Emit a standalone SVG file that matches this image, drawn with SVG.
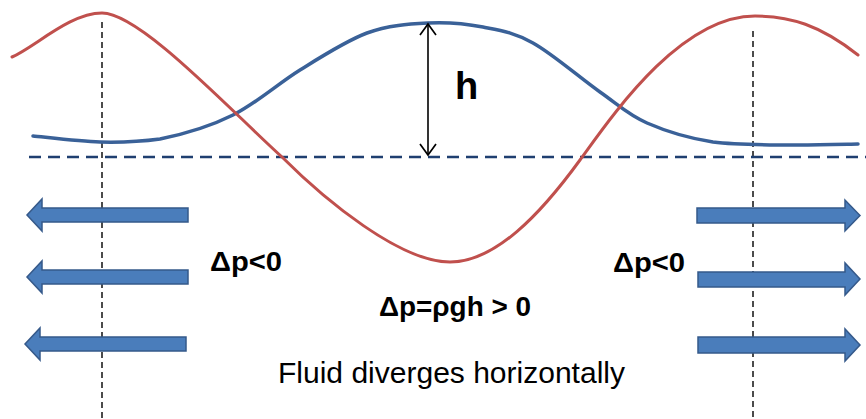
<svg xmlns="http://www.w3.org/2000/svg" width="866" height="419" viewBox="0 0 866 419">
<style>
.vguide{stroke:#111;stroke-width:1.5;stroke-dasharray:6,4;fill:none}
.base{stroke:#1f3f70;stroke-width:2.5;stroke-dasharray:12,7;fill:none}
.curve{fill:none;stroke-linecap:round;stroke-linejoin:round}
.barrow{fill:#4a7dbb;stroke:#35598a;stroke-width:1.5;stroke-linejoin:miter}
.lbl{font-family:"Liberation Sans",Arial,sans-serif;fill:#000}
.b{font-weight:bold}
</style>
<defs>
<marker id="open" viewBox="-1 -1 14 18" refX="11" refY="8" markerWidth="14" markerHeight="18" orient="auto-start-reverse" markerUnits="userSpaceOnUse">
<path d="M0,0 L11,8 L0,16" fill="none" stroke="#000" stroke-width="1.7"/>
</marker>
</defs>
<rect width="866" height="419" fill="#fff"/>
<g id="guides">
<line class="vguide" x1="102" y1="22" x2="102" y2="419"/>
<line class="vguide" x1="753" y1="31" x2="753" y2="419"/>
<line class="base" x1="29" y1="157" x2="866" y2="157"/>
</g>
<g id="blue-surface">
<path class="curve" stroke="#3a6198" stroke-width="3.5" d="M33,136 C44,137 79,141.5 100,142 C121,142.5 138,142 160,139 C182,134.5 210,126.5 233,115 C256,103.5 278,83.7 300,70 C322,56.3 346,40.8 367,33 C388,25.2 409,24 428,23 C447,22 466,23.7 483,27 C500,30.3 514,32.2 533,43 C552.5,53.8 581,78.7 600,92 C619,105.3 628,114.7 647,123 C666,131.3 689,138.3 713,142 C737,145 766,144.7 790,145 C814,145.3 847,144.2 858,144"/>
</g>
<g id="red-pressure">
<path class="curve" stroke="#c0504d" stroke-width="3" d="M12,57 C35,47 70,13 102,13 C140,13 230,110 282,157 C325,200 400,262 450,262 C495,262 540,215 580,160 C612,116 680,16 755,16 C790,16 820,25 858,55"/>
</g>
<g id="connectors">
<line x1="428" y1="24" x2="428" y2="155" stroke="#000" stroke-width="1.6" marker-start="url(#open)" marker-end="url(#open)"/>
</g>
<g id="left-arrows">
<polygon class="barrow" points="27,215 42,199 42,208 188,208 188,222 42,222 42,231"/>
<polygon class="barrow" points="27,277 42,261 42,270 188,270 188,284 42,284 42,293"/>
<polygon class="barrow" points="25,344 40,328 40,337 186,337 186,351 40,351 40,360"/>
</g>
<g id="right-arrows">
<polygon class="barrow" points="860,215.5 845,200 845,208 697,208 697,223 845,223 845,231"/>
<polygon class="barrow" points="860,279 845,263 845,272 698,272 698,287 845,287 845,295"/>
<polygon class="barrow" points="860,345 845,329 845,337 698,337 698,353 845,353 845,361"/>
</g>
<g id="label-h"><text class="lbl b" x="455" y="99" font-size="38">h</text></g>
<g id="label-left"><text class="lbl b" x="210" y="271" font-size="27" textLength="72" lengthAdjust="spacingAndGlyphs">Δp&lt;0</text></g>
<g id="label-right"><text class="lbl b" x="613" y="272" font-size="27" textLength="72" lengthAdjust="spacingAndGlyphs">Δp&lt;0</text></g>
<g id="label-center"><text class="lbl b" x="379" y="316" font-size="27" textLength="152" lengthAdjust="spacingAndGlyphs">Δp=ρgh &gt; 0</text></g>
<g id="caption"><text class="lbl" x="278" y="383" font-size="29" textLength="347" lengthAdjust="spacingAndGlyphs">Fluid diverges horizontally</text></g>
</svg>
